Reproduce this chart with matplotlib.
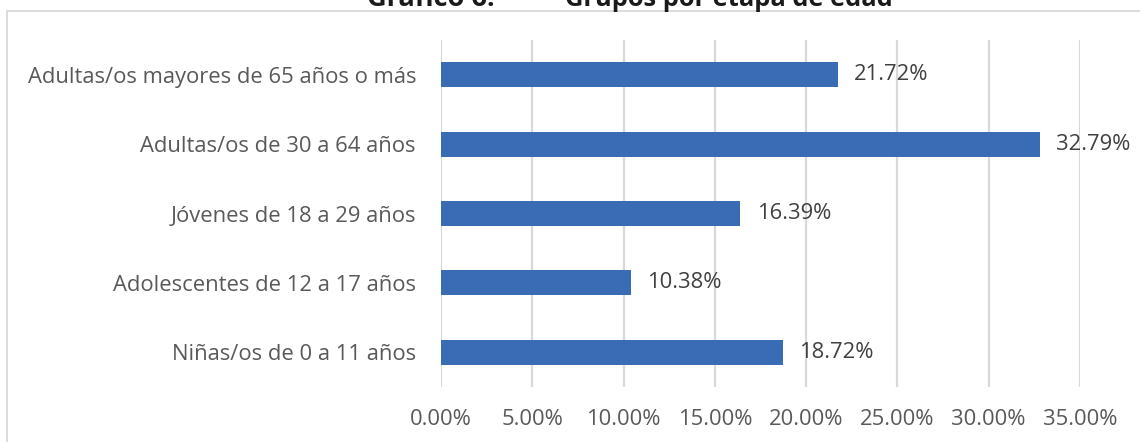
import numpy as np
import matplotlib.pyplot as plt
from matplotlib.patches import Rectangle
from matplotlib.ticker import FuncFormatter

# Grupos por etapa de edad (porcentaje)
categories = ["Niñas/os de 0 a 11 años",
              "Adolescentes de 12 a 17 años",
              "Jóvenes de 18 a 29 años",
              "Adultas/os de 30 a 64 años",
              "Adultas/os mayores de 65 años o más"]
values = [18.72, 10.38, 16.39, 32.79, 21.72]
xticks = [0, 5, 10, 15, 20, 25, 30, 35]

plt.rcParams['font.family'] = ['Open Sans', 'DejaVu Sans']

fig = plt.figure(figsize=(11.4, 4.42), dpi=100)
ax = fig.add_axes([441 / 1140, 1 - 387 / 442, (1080 - 441) / 1140, 347 / 442])

y = np.arange(len(categories))
ax.barh(y, values, height=0.36, color="#3A6BB5", zorder=3)

for yi, v in zip(y, values):
    ax.annotate(f"{v:.2f}%", (v, yi), xytext=(12, 0), textcoords="offset points",
                va="center", ha="left", fontsize=15.8, color="#404040", zorder=4)

ax.set_xlim(0, 35)
ax.set_ylim(-0.5, len(categories) - 0.5)
ax.set_xticks(xticks)
ax.xaxis.set_major_formatter(FuncFormatter(lambda v, p: f"{v:.2f}%"))
ax.set_yticks(y)
ax.set_yticklabels(categories)
ax.tick_params(axis="both", length=0, labelsize=15.8, labelcolor="#595959")
ax.tick_params(axis="x", pad=16)
ax.tick_params(axis="y", pad=18)
ax.grid(axis="x", color="#D9D9D9", linewidth=1.6, zorder=0)
for s in ax.spines.values():
    s.set_visible(False)

# chart area border
fig.patches.append(Rectangle((7 / 1140, -0.05), 1.1, 1 - 11 / 442 + 0.05,
                             transform=fig.transFigure, fill=False,
                             edgecolor="#D9D9D9", linewidth=1.3))

# title (top edge of the page)
fig.text(367 / 1140, 1 - 6 / 442, "Gráfico 6.", fontsize=19.5, fontweight="bold",
         color="#1a1a1a", ha="left", va="baseline")
fig.text(565 / 1140, 1 - 6 / 442, "Grupos por etapa de edad", fontsize=18.3,
         fontweight="bold", color="#1a1a1a", ha="left", va="baseline")

fig.savefig("out.png", dpi=100)
